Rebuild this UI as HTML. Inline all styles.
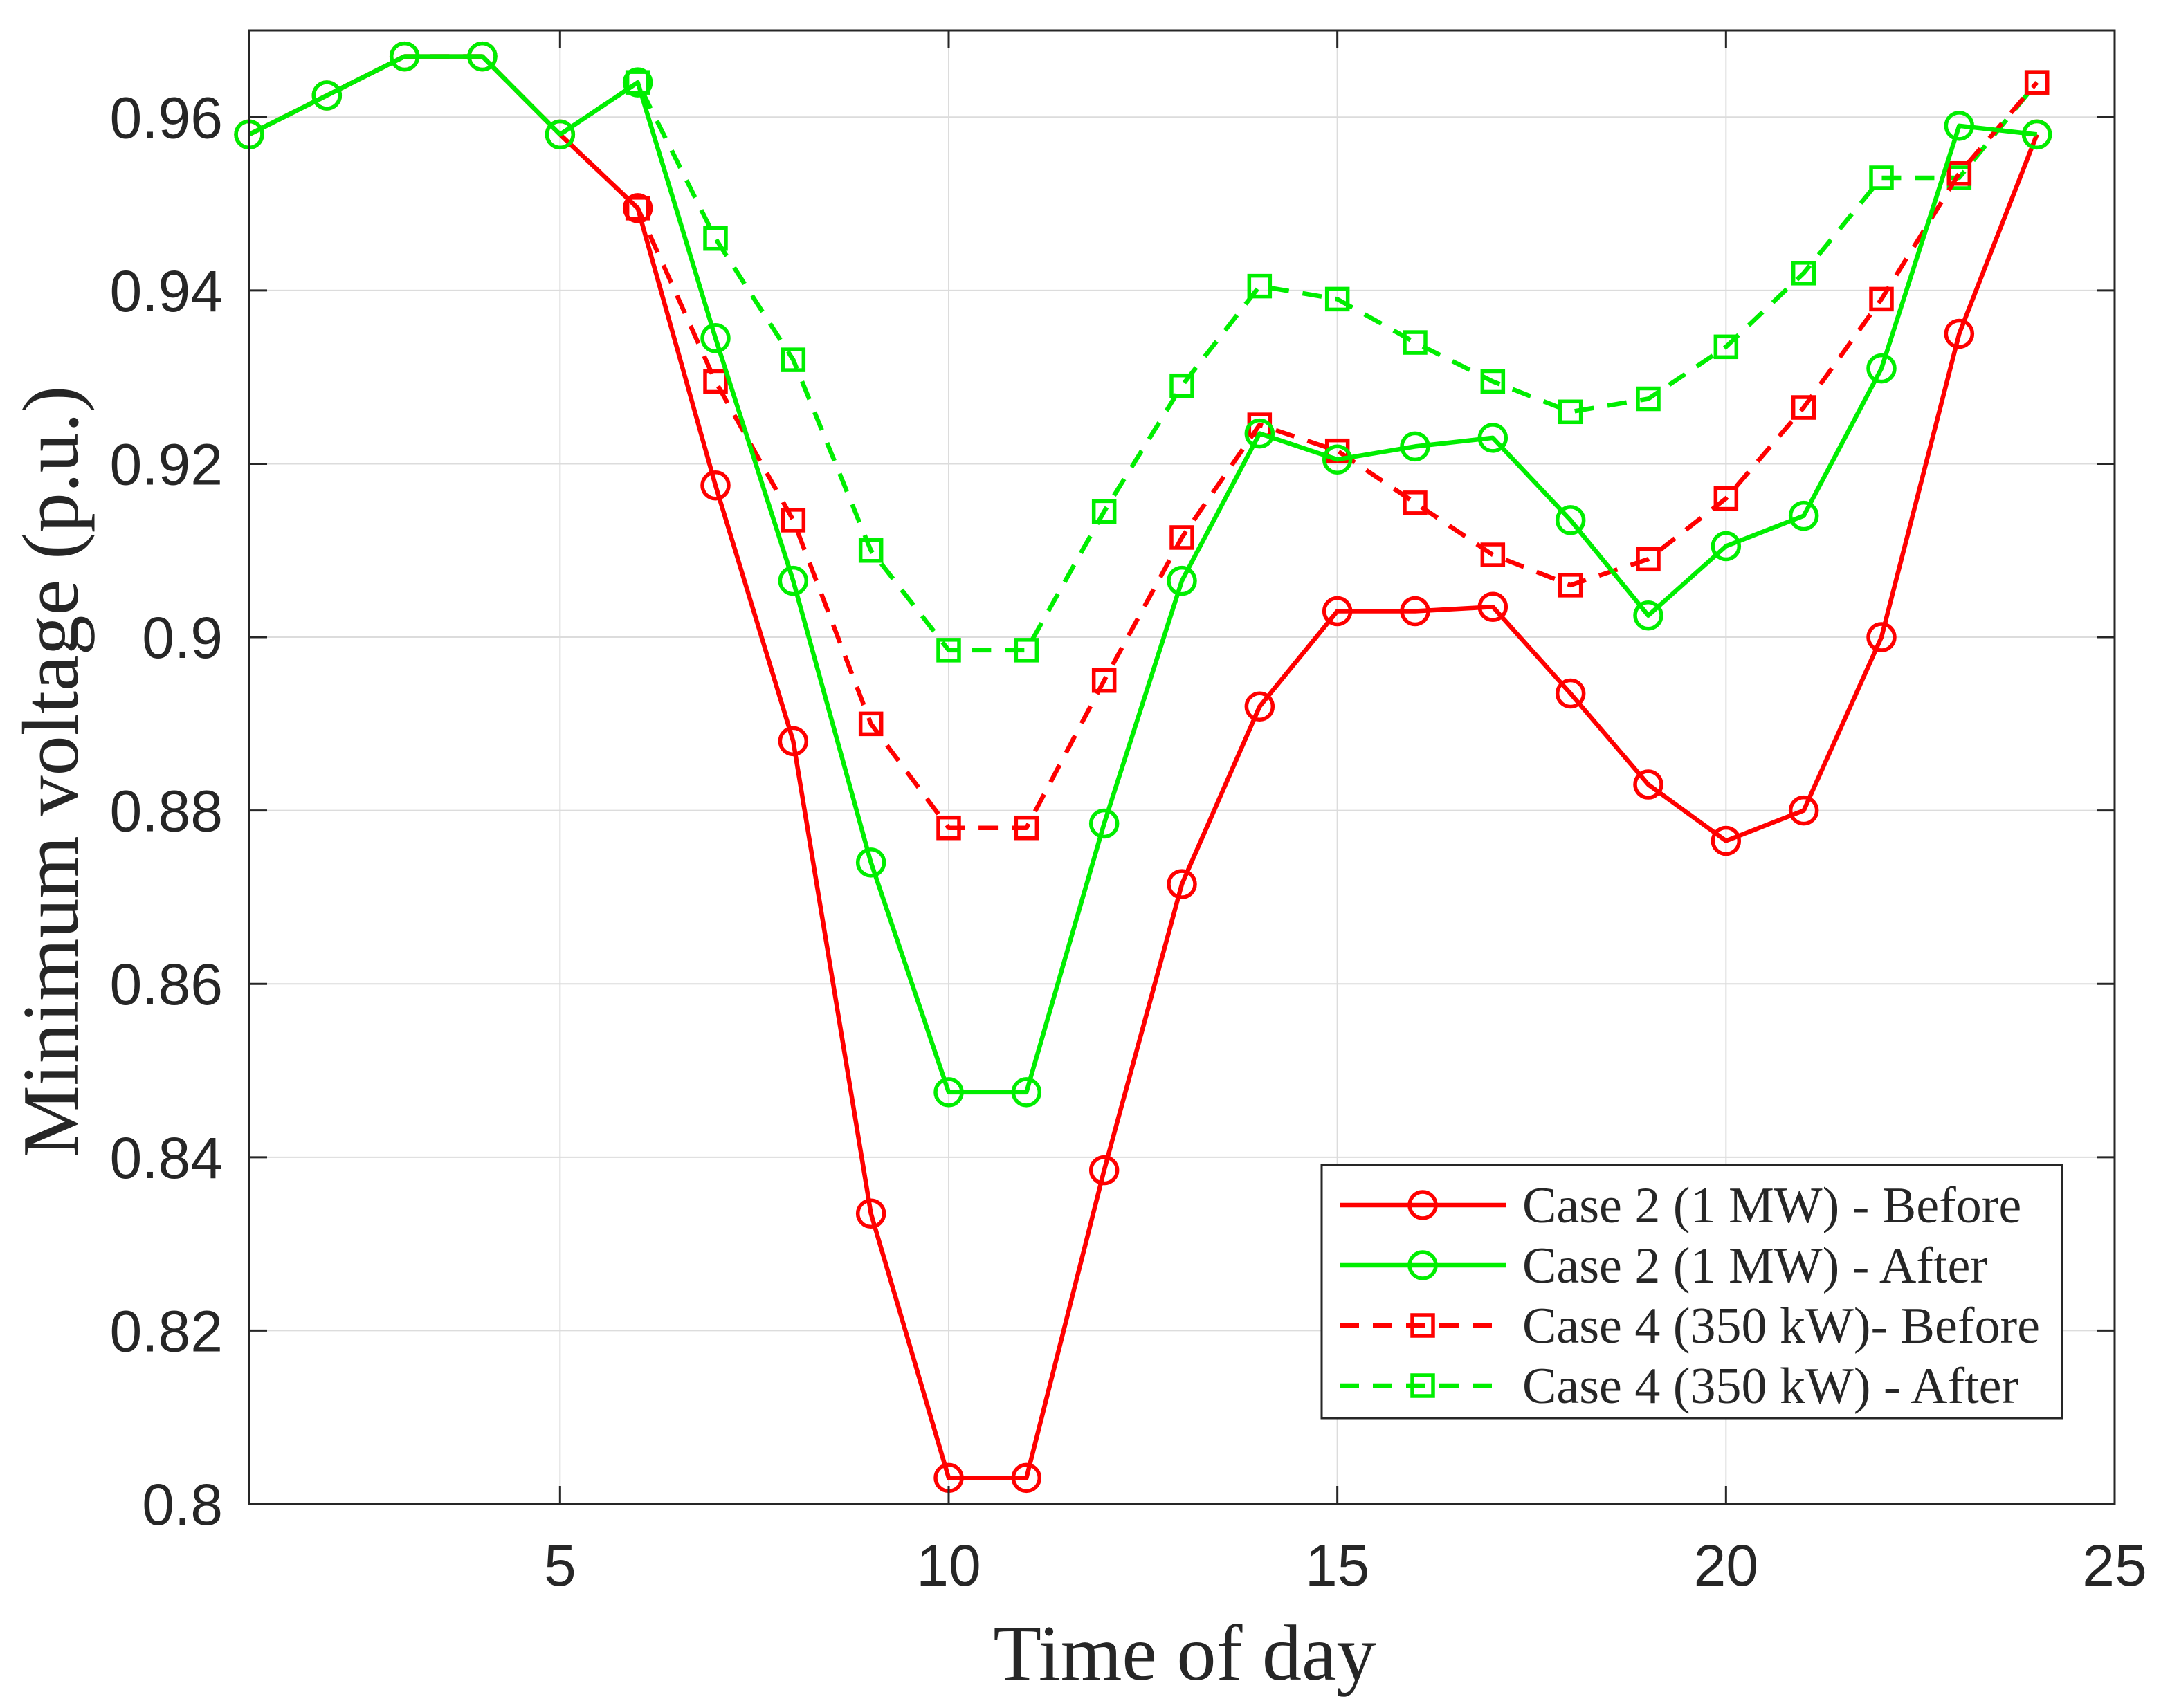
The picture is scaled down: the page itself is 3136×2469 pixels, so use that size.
<!DOCTYPE html>
<html><head><meta charset="utf-8"><style>
html,body{margin:0;padding:0;background:#fff;}
svg{display:block;}
</style></head><body>
<svg id="chart" width="3136" height="2469" viewBox="0 0 3136 2469" xmlns="http://www.w3.org/2000/svg">
<rect x="0" y="0" width="3136" height="2469" fill="#fff"/>
<g id="grid"></g>
<g id="series"></g>
<g id="axes"></g>
<g id="legend"></g>
</svg>
<script>
const hours = [1,2,3,4,5,6,7,8,9,10,11,12,13,14,15,16,17,18,19,20,21,22,23,24];
const case2Before = [0.958,0.9625,0.967,0.967,0.958,0.9495,0.9175,0.888,0.8335,0.803,0.803,0.8385,0.8715,0.892,0.903,0.903,0.9035,0.8935,0.883,0.8765,0.880,0.900,0.935,0.958];
const case2After = [0.958,0.9625,0.967,0.967,0.958,0.964,0.9345,0.9065,0.874,0.8475,0.8475,0.8785,0.9065,0.9235,0.9205,0.922,0.923,0.9135,0.9025,0.9105,0.914,0.931,0.959,0.958];
const case4Before = [0.958,0.9625,0.967,0.967,0.958,0.9495,0.9295,0.9135,0.890,0.878,0.878,0.895,0.9115,0.9245,0.9215,0.9155,0.9095,0.906,0.909,0.916,0.9265,0.939,0.9535,0.964];
const case4After = [0.958,0.9625,0.967,0.967,0.958,0.964,0.946,0.932,0.910,0.8985,0.8985,0.9145,0.929,0.9405,0.939,0.934,0.9295,0.926,0.9275,0.9335,0.942,0.953,0.953,0.964];
const xTicks = [5,10,15,20,25];
const yTicks = [0.8,0.82,0.84,0.86,0.88,0.9,0.92,0.94,0.96];
const yTickLabels = ["0.8","0.82","0.84","0.86","0.88","0.9","0.92","0.94","0.96"];
const legendLabels = ["Case 2 (1 MW) - Before","Case 2 (1 MW) - After","Case 4 (350 kW)- Before","Case 4 (350 kW) - After"];

const L=360,R=3056,T=44,B=2174;
const xMin=1,xMax=25,yMin=0.8,yMax=0.97;
const xs=v=>L+(v-xMin)/(xMax-xMin)*(R-L);
const ys=v=>B-(v-yMin)/(yMax-yMin)*(B-T);
const NS="http://www.w3.org/2000/svg";
function mk(tag,attrs,parent){const e=document.createElementNS(NS,tag);for(const k in attrs)e.setAttribute(k,attrs[k]);parent.appendChild(e);return e;}
const grid=document.getElementById('grid'),axes=document.getElementById('axes'),ser=document.getElementById('series'),leg=document.getElementById('legend');
const sans='"Liberation Sans", sans-serif', serif='"Liberation Serif", serif';

xTicks.forEach(t=>{
  const x=xs(t);
  const g=mk('line',{x1:x,x2:x,y1:T,y2:B,stroke:'#dcdcdc','stroke-width':2},grid);
  
  mk('line',{x1:x,x2:x,y1:B,y2:B-26,stroke:'#262626','stroke-width':3},axes);
  mk('line',{x1:x,x2:x,y1:T,y2:T+26,stroke:'#262626','stroke-width':3},axes);
  const tx=mk('text',{x:x,y:B+118,'text-anchor':'middle','font-family':sans,'font-size':84,fill:'#262626'},axes);
  tx.textContent=t;
  
});
yTicks.forEach((t,i)=>{
  const y=ys(t);
  const g=mk('line',{x1:L,x2:R,y1:y,y2:y,stroke:'#dcdcdc','stroke-width':2},grid);
  
  mk('line',{x1:L,x2:L+26,y1:y,y2:y,stroke:'#262626','stroke-width':3},axes);
  mk('line',{x1:R,x2:R-26,y1:y,y2:y,stroke:'#262626','stroke-width':3},axes);
  const tx=mk('text',{x:L-38,y:y+30,'text-anchor':'end','font-family':sans,'font-size':84,fill:'#262626'},axes);
  tx.textContent=yTickLabels[i];
  
});
const frame=mk('rect',{x:L,y:T,width:R-L,height:B-T,fill:'none',stroke:'#262626','stroke-width':3},axes);

const xt=mk('text',{x:1712,y:2428,'text-anchor':'middle','font-family':serif,'font-size':114,fill:'#262626'},axes);
xt.textContent='Time of day';

const yt=mk('text',{x:0,y:0,'text-anchor':'middle','font-family':serif,'font-size':116,fill:'#262626',transform:`translate(112,1115) rotate(-90)`},axes);
yt.textContent='Minimum voltage (p.u.)';


function marker(g,x,y,color,shape){
  if(shape==='circle'){const m=mk('circle',{cx:x,cy:y,r:19,fill:'none',stroke:color,'stroke-width':5.5},g);}
  else{const m=mk('rect',{x:x-15,y:y-15,width:30,height:30,fill:'none',stroke:color,'stroke-width':5.5},g);}
}
const series=[
 {vals:case4After,color:'#00ee00',dash:'28 20',shape:'square',name:'series-case4-after'},
 {vals:case4Before,color:'#ff0000',dash:'28 20',shape:'square',name:'series-case4-before'},
 {vals:case2Before,color:'#ff0000',dash:null,shape:'circle',name:'series-case2-before'},
 {vals:case2After,color:'#00ee00',dash:null,shape:'circle',name:'series-case2-after'}
];
series.forEach(s=>{
  const g=mk('g',{},ser);
  
  const pts=hours.map((h,i)=>xs(h)+','+ys(s.vals[i])).join(' ');
  const a={points:pts,fill:'none',stroke:s.color,'stroke-width':6.5,'stroke-linejoin':'round'};
  if(s.dash)a['stroke-dasharray']=s.dash;
  const pl=mk('polyline',a,g);
  
  hours.forEach((h,i)=>{ if(s.shape==='square' && i<5) return; marker(g,xs(h),ys(s.vals[i]),s.color,s.shape);});
});

const lg=mk('g',{},leg);

mk('rect',{x:1910,y:1684,width:1070,height:366,fill:'#fff',stroke:'#262626','stroke-width':3},lg);
const legStyle=[['#ff0000',null,'circle'],['#00ee00',null,'circle'],['#ff0000','28 20','square'],['#00ee00','28 20','square']];
legendLabels.forEach((lab,i)=>{
  const y=1742+i*87;
  const e=mk('g',{},lg);
  
  const a={x1:1936,x2:2176,y1:y,y2:y,stroke:legStyle[i][0],'stroke-width':6.5};
  if(legStyle[i][1])a['stroke-dasharray']=legStyle[i][1];
  mk('line',a,e);
  marker(e,2056,y,legStyle[i][0],legStyle[i][2]);
  const t=mk('text',{x:2200,y:y+25,'font-family':serif,'font-size':74,fill:'#262626'},e);
  t.textContent=lab;
});
</script>
</body></html>
